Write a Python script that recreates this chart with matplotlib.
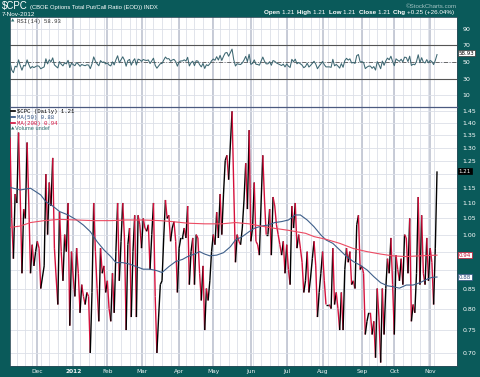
#!/usr/bin/env python3
import matplotlib
matplotlib.use("Agg")
import matplotlib.pyplot as plt
from matplotlib import transforms, ticker
from matplotlib.collections import LineCollection
from matplotlib.lines import Line2D
import numpy as np
import pandas as pd

# $CPC daily close, 8-Nov-2011 .. 7-Nov-2012 (one per session)
cpc = [
    1.34, 1.05, 0.93, 1.13, 1.10, 1.36, 1.12, 0.89, 1.08, 1.05,
    1.32, 1.10, 0.89, 0.97, 0.91, 0.95, 0.98, 0.96, 0.85, 0.88,
    0.91, 1.20, 1.00, 1.17, 1.09, 1.26, 0.96, 0.88, 0.81, 1.07,
    0.95, 0.87, 1.00, 0.95, 1.10, 0.76, 0.95, 0.88, 0.83, 0.96,
    0.89, 0.79, 0.86, 0.83, 0.81, 0.84, 0.83, 0.70, 0.84, 1.10,
    0.95, 0.85, 0.77, 0.96, 0.89, 0.91, 0.84, 0.87, 0.80, 0.77,
    0.89, 0.79, 0.95, 1.10, 0.87, 0.98, 1.10, 0.99, 0.75, 0.97,
    1.02, 0.78, 0.95, 1.06, 0.78, 1.06, 1.03, 0.96, 1.05, 1.02,
    1.01, 1.03, 0.90, 1.00, 1.10, 0.83, 0.70, 0.78, 0.86, 0.87,
    0.99, 1.11, 1.05, 1.06, 0.98, 1.02, 1.04, 0.98, 0.84, 0.96,
    0.99, 0.99, 1.02, 0.99, 1.09, 0.86, 0.95, 0.99, 0.86, 1.00,
    0.99, 0.89, 0.82, 0.91, 0.75, 0.85, 0.82, 0.87, 0.95, 1.00,
    0.97, 1.07, 0.99, 1.13, 1.00, 1.13, 1.25, 1.27, 1.18, 1.31,
    1.45, 1.15, 0.92, 1.00, 0.98, 0.97, 1.02, 1.11, 1.24, 1.08,
    1.37, 0.98, 1.02, 1.17, 0.98, 0.97, 0.94, 1.10, 1.27, 1.11,
    1.00, 1.00, 1.08, 0.94, 1.12, 1.09, 1.03, 1.00, 0.97, 0.94,
    0.98, 0.89, 0.97, 0.90, 0.86, 1.09, 1.02, 1.10, 0.96, 1.00,
    0.96, 0.92, 0.84, 0.87, 0.95, 0.84, 0.88, 0.93, 0.98, 0.91,
    0.78, 0.84, 0.89, 0.95, 0.87, 0.81, 0.81, 0.81, 0.80, 0.96,
    0.81, 0.84, 0.80, 0.75, 0.84, 0.75, 0.90, 0.96, 0.92, 0.95,
    0.86, 0.87, 0.85, 1.03, 1.06, 0.90, 0.91, 0.89, 0.74, 0.77,
    0.79, 0.79, 0.74, 0.77, 0.69, 0.85, 0.78, 0.68, 0.85, 0.74,
    0.85, 0.93, 0.89, 0.99, 0.86, 0.74, 0.94, 0.90, 0.87, 0.93,
    0.86, 1.00, 0.99, 0.89, 1.05, 0.77, 0.81, 0.79, 0.89, 1.12,
    0.86, 1.06, 0.89, 0.86, 0.99, 0.87, 0.96, 0.92, 0.81, 0.96,
    1.21,
]

# moving averages as drawn (session index, value)
ma50_day = [0, 6, 12, 18, 21, 25, 29, 34, 39, 43, 47, 51, 55, 59, 62, 66, 70, 74, 78, 82,
            86, 89, 93, 97, 101, 104, 108, 111, 114, 117, 121, 125, 129, 132, 136, 140,
            143, 147, 151, 155, 159, 163, 167, 170, 174, 178, 182, 185, 189, 193, 197,
            201, 205, 209, 213, 217, 221, 224, 228, 232, 236, 240, 244, 247, 250]
ma50 = [1.153, 1.144, 1.150, 1.127, 1.104, 1.090, 1.072, 1.061, 1.045, 1.029, 1.009,
        0.979, 0.955, 0.936, 0.919, 0.919, 0.915, 0.908, 0.901, 0.901, 0.897, 0.892,
        0.908, 0.922, 0.928, 0.936, 0.943, 0.950, 0.943, 0.938, 0.940, 0.947, 0.964,
        0.984, 0.994, 1.009, 1.019, 1.026, 1.029, 1.037, 1.040, 1.045, 1.061, 1.061,
        1.045, 1.024, 0.999, 0.984, 0.974, 0.955, 0.936, 0.922, 0.912, 0.899, 0.881,
        0.865, 0.857, 0.855, 0.851, 0.859, 0.859, 0.865, 0.874, 0.879, 0.88]
ma200_day = [0, 6, 12, 20, 29, 39, 49, 59, 68, 78, 88, 95, 104, 114, 124, 132, 140,
             147, 155, 163, 173, 178, 185, 193, 201, 209, 217, 224, 232, 240, 250]
ma200 = [1.022, 1.026, 1.037, 1.043, 1.047, 1.045, 1.043, 1.043, 1.045, 1.045, 1.043,
         1.040, 1.035, 1.033, 1.033, 1.037, 1.033, 1.026, 1.019, 1.013, 1.004, 0.994,
         0.986, 0.974, 0.959, 0.950, 0.943, 0.938, 0.936, 0.938, 0.94]

rsi_last = 58.93
closed = ['2011-11-24', '2011-12-26', '2012-01-02', '2012-01-16', '2012-02-20',
          '2012-04-06', '2012-05-28', '2012-07-04', '2012-09-03', '2012-10-29',
          '2012-10-30']
month_names = ['Dec', '2012', 'Feb', 'Mar', 'Apr', 'May', 'Jun', 'Jul', 'Aug',
               'Sep', 'Oct', 'Nov']
price_ticks = [0.70, 0.75, 0.80, 0.85, 0.90, 0.95, 1.00, 1.05, 1.10, 1.15, 1.20,
               1.25, 1.30, 1.35, 1.40, 1.45]
rsi_ticks = [10, 30, 50, 70, 90]

TEAL = '#0a5a5a'
GRID = '#dcdfe8'
MGRID = '#c4c8d4'
FS = 4.5

dates = pd.bdate_range('2011-11-08', '2012-11-07')
dates = dates[~dates.isin(pd.to_datetime(closed))]
close = np.array(cpc[:len(dates)])
days = np.arange(len(close))

# RSI(14), Wilder smoothing; averages seeded with the mean daily gain / loss
chg = np.diff(close, prepend=close[0])
gain = np.clip(chg, 0, None)
loss = np.clip(-chg, 0, None)
ag, al = gain.mean(), loss.mean()
rsi = []
for g, l in zip(gain, loss):
    ag = (ag * 13 + g) / 14
    al = (al * 13 + l) / 14
    rsi.append(100 - 100 / (1 + ag / al))

week_starts = [i for i in range(1, len(dates)) if dates[i].weekday() < dates[i - 1].weekday()]
month_starts = [i for i in range(1, len(dates)) if dates[i].month != dates[i - 1].month]

fig = plt.figure(figsize=(4.8, 3.77), dpi=100, facecolor=TEAL)
ax_r = fig.add_axes([10 / 480, 1 - 107 / 377, 447 / 480, 90 / 377])
ax_p = fig.add_axes([10 / 480, 1 - 366 / 377, 447 / 480, 259 / 377])

for ax in (ax_r, ax_p):
    ax.set_facecolor('white')
    ax.set_xlim(0, 261.7)
    for i in week_starts:
        ax.axvline(i, color=GRID, lw=0.6, zorder=0)
    for i in month_starts:
        ax.axvline(i, color=MGRID, lw=1.3, zorder=0)
    for s in ax.spines.values():
        s.set_color('#2d4d5a')
        s.set_linewidth(0.6)

# ---- RSI panel
ax_r.set_ylim(-4, 104)
ax_r.set_yticks(rsi_ticks)
ax_r.grid(axis='y', color=GRID, lw=0.6, zorder=0)
ax_r.axhline(70, color='#555555', lw=0.8)
ax_r.axhline(30, color='#555555', lw=0.8)
ax_r.axhline(50, color='#555555', lw=0.6, ls=(0, (5, 2, 1, 2)))
ax_r.plot(days, rsi, color='#3d6772', lw=0.75, zorder=3)
ax_r.tick_params(axis='x', length=0, labelbottom=False)
ax_r.tick_params(axis='y', length=0, left=False, labelleft=False, right=True,
                 labelright=True, labelsize=FS, labelcolor='white', pad=4)
ax_r.spines['bottom'].set_visible(False)
tr_r = transforms.blended_transform_factory(ax_r.transAxes, ax_r.transData)
ax_r.text(1.003, rsi_last + 1.5, f'{rsi_last:.2f}', transform=tr_r, ha='left', va='center',
          fontsize=FS - 0.5, color='black', zorder=10, clip_on=False,
          bbox=dict(boxstyle='square,pad=0.1', fc='white', ec='#333333', lw=0.5))

# ---- price panel
segs = np.stack([np.column_stack([days[:-1], close[:-1]]),
                 np.column_stack([days[1:], close[1:]])], axis=1)
cols = np.where(close[1:] >= close[:-1], 'black', '#d4103c')
ax_p.set_yscale('log')
ax_p.add_collection(LineCollection(segs, colors=cols, linewidths=1.0, zorder=4))
ax_p.plot(ma50_day, ma50, color='#3e5f8a', lw=0.8, zorder=5)
ax_p.plot(ma200_day, ma200, color='#ec4a62', lw=0.8, zorder=5)
ax_p.set_ylim(0.673, 1.469)

# tick labels that sit under the value boxes on the right are not shown
boxed = [close[-1], ma50[-1], ma200[-1]]


def price_label(v, pos):
    if any(abs(v - b) < 0.022 for b in boxed):
        return ''
    return f'{v:.2f}'


ax_p.yaxis.set_major_locator(ticker.FixedLocator(price_ticks))
ax_p.yaxis.set_major_formatter(ticker.FuncFormatter(price_label))
ax_p.yaxis.set_minor_locator(ticker.NullLocator())
ax_p.grid(axis='y', which='major', color=GRID, lw=0.6, zorder=0)
ax_p.tick_params(axis='y', which='both', length=0, left=False, labelleft=False,
                 right=True, labelright=True, labelsize=FS, labelcolor='white', pad=4)
ax_p.set_xticks(month_starts)
ax_p.set_xticklabels(month_names)
ax_p.tick_params(axis='x', length=0, labelsize=FS - 0.3, labelcolor='#eef4f4', pad=2.5)
ax_p.get_xticklabels()[1].set_fontweight('bold')
ax_p.spines['top'].set_color('#4b5a80')
ax_p.spines['top'].set_linewidth(0.9)

tr_p = transforms.blended_transform_factory(ax_p.transAxes, ax_p.transData)
ax_p.text(1.004, close[-1], f'{close[-1]:.2f}', transform=tr_p, ha='left', va='center',
          fontsize=FS - 0.5, color='white', zorder=10, clip_on=False,
          bbox=dict(boxstyle='square,pad=0.1', fc='black', ec='black', lw=0.5))
ax_p.text(1.004, ma200[-1], f'{ma200[-1]:.2f}', transform=tr_p, ha='left', va='center',
          fontsize=FS - 0.5, color='#c8102e', zorder=10, clip_on=False,
          bbox=dict(boxstyle='square,pad=0.1', fc='white', ec='#c8102e', lw=0.5))
ax_p.text(1.004, ma50[-1], f'{ma50[-1]:.2f}', transform=tr_p, ha='left', va='center',
          fontsize=FS - 0.5, color='#2d4f80', zorder=10, clip_on=False,
          bbox=dict(boxstyle='square,pad=0.1', fc='white', ec='#2d4f80', lw=0.5))


def fx(x):
    return x / 480


def fy(y):
    return 1 - y / 377


# legend rows in the price panel
legend_rows = [
    (r'\$CPC (Daily) ' + f'{close[-1]:.2f}', 'black', 111),
    (f'MA(50) {ma50[-1]:.2f}', '#2d4f80', 117),
    (f'MA(200) {ma200[-1]:.2f}', '#d4103c', 123),
]
for txt, c, y in legend_rows:
    fig.add_artist(Line2D([fx(11), fx(15)], [fy(y), fy(y)], color=c, lw=1.2,
                          transform=fig.transFigure))
    fig.text(fx(17), fy(y), txt, color=c, fontsize=4.1, family='Liberation Mono',
             va='center', ha='left')
fig.text(fx(10.5), fy(129), '\u25b2', color='#2f6f6f', fontsize=3.2, va='center', ha='left')
fig.text(fx(15), fy(129), 'Volume undef', color='#2f6f6f', fontsize=4.1,
         family='Liberation Sans', va='center', ha='left')

fig.text(fx(10.5), fy(21), '\u25b2', color='#2f6f6f', fontsize=3.2, va='center', ha='left')
fig.text(fx(17), fy(21), f'RSI(14) {rsi_last:.2f}', color='#333333', fontsize=4.1,
         family='Liberation Mono', va='center', ha='left')

# header
fig.text(fx(2), fy(9.5), r'\$CPC', color='white', fontsize=7, family='Liberation Sans',
         va='baseline', ha='left')
fig.text(fx(30), fy(9.5), '(CBOE Options Total Put/Call Ratio (EOD)) INDX', color='white',
         fontsize=4.2, family='Liberation Sans', va='baseline', ha='left')
fig.text(fx(2), fy(15.5), '7-Nov-2012', color='white', fontsize=4.6,
         family='Liberation Sans', va='baseline', ha='left')
fig.text(fx(457), fy(7.5), '\u00a9StockCharts.com', color='#a5c4c4', fontsize=4.4,
         family='Liberation Sans', va='baseline', ha='right')

header = [('Open ', 'bold'), ('1.21  ', 'normal'), ('High ', 'bold'), ('1.21  ', 'normal'),
          ('Low ', 'bold'), ('1.21  ', 'normal'), ('Close ', 'bold'), ('1.21  ', 'normal'),
          ('Chg ', 'bold'), ('+0.25 (+26.04%)', 'normal')]
prev = fig.text(fx(264), fy(15), header[0][0], color='white', fontsize=4.5,
                family='Liberation Sans', weight=header[0][1], va='bottom', ha='left')
for txt, w in header[1:]:
    prev = ax_p.annotate(txt, xy=(1, 0), xycoords=prev, va='bottom', ha='left',
                         color='white', fontsize=4.5, family='Liberation Sans',
                         weight=w, annotation_clip=False)

fig.savefig('out.png', dpi=100, facecolor=TEAL)
